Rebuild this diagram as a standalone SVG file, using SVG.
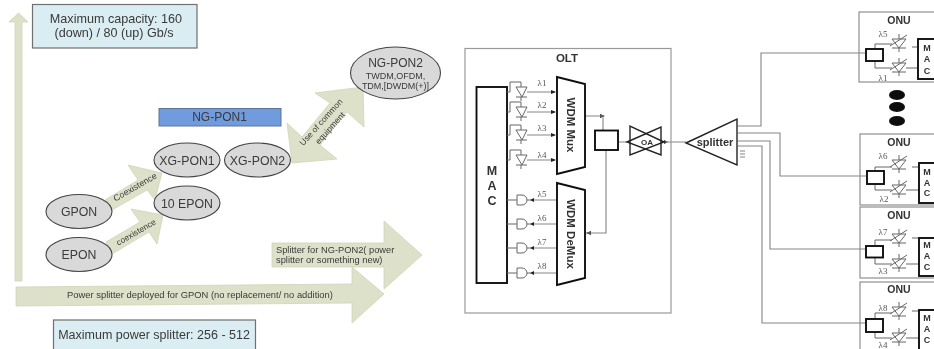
<svg xmlns="http://www.w3.org/2000/svg" width="934" height="349" viewBox="0 0 934 349">
<style>
text{font-family:"Liberation Sans",Arial,sans-serif;fill:#3a3a3a;text-anchor:middle}
.arrow{fill:#dde1c9;stroke:#cfd4b8;stroke-width:.8}
.info{fill:#daedf3;stroke:#6f6f6f;stroke-width:1.200}
.pon{fill:#d9d9d9;stroke:#444;stroke-width:1.100}
.w{fill:none;stroke:#858585;stroke-width:1.100}
.k{fill:#fff;stroke:#111;stroke-width:1.900}
.k2{fill:none;stroke:#222;stroke-width:1.400}
.th{fill:none;stroke:#666;stroke-width:1}
.b{font-weight:bold;fill:#333}
.l{font-family:"Liberation Serif",serif;font-size:9px;fill:#555}
</style>
<defs>
<filter id="s" x="-2%" y="-2%" width="104%" height="104%"><feGaussianBlur stdDeviation="0.4"/></filter>
<g id="ld"><path class="th" d="M-15 0H-12V-10H-1V-5M-1 5V9M-6 5H5M-6 -5H5L0 5Z"/></g>
<g id="pd"><path class="th" d="M-15 0H-5M-5 -5H0A5 5 0 0 1 0 5H-5Z"/><path d="M5 0H8" class="th"/><path d="M8 0L12 -2V2Z" fill="#222"/></g>
<g id="ot"><path class="th" d="M-7 -4H7L0 5Z M-7 5H7M0 5V9M0 -9V-4M-9 3L8 -8"/></g>
</defs>
<rect width="934" height="349" fill="#fff"/>
<g filter="url(#s)">
<g id="connectors-left">
<polygon class="arrow" points="15,281 22,281 22,22 28,22 18.500,13 9,22 15,22"/>
<polygon class="arrow" points="272,243 384,243 384,221 422,255 384,289 384,267 272,267"/>
<polygon class="arrow" points="16,287 352,284 352,267 384,294 352,323 352,303 16,306"/>
<polygon class="arrow" points="105,200 138,180 128,165 162,173 155,200 147,190 112,210"/>
<polygon class="arrow" points="106,242 140,222 131,209 163,215 157,244 149,232 112,254"/>
<polygon class="arrow" points="363,87 364,127 347,112 320,145 337,159 292,163 287,123 302,137 330,103 315,93"/>
<text x="135" y="190" font-size="8.800" transform="rotate(-30 135 187)">Coexistence</text>
<text x="136" y="235" font-size="8.400" transform="rotate(-30 136 232)">coexistence</text>
<text x="321" y="125" font-size="8.500" transform="rotate(-48 321 122)">Use of common</text>
<text x="330" y="131" font-size="8.500" transform="rotate(-48 330 128)">equipment</text>
<text x="276" y="253" font-size="9.300" style="text-anchor:start">Splitter for NG-PON2( power</text>
<text x="276" y="263" font-size="9.300" style="text-anchor:start">splitter or something new)</text>
<text x="200" y="298" font-size="9.400">Power splitter deployed for GPON (no replacement/ no addition)</text>
</g>
<g id="capacity"><rect class="info" x="32.500" y="4.500" width="164.500" height="43.500"/>
<text x="116" y="23" font-size="12.600">Maximum capacity: 160</text><text x="114" y="37" font-size="12.600">(down) / 80 (up) Gb/s</text></g>
<g id="splitter-max"><rect class="info" x="53.500" y="320" width="202" height="30"/>
<text x="154" y="339" font-size="12.500">Maximum power splitter: 256 - 512</text></g>
<g id="ngpon1"><rect x="159" y="108.500" width="122" height="17.500" fill="#6f9bdc" stroke="#5f7596"/><text x="219.500" y="121" font-size="12">NG-PON1</text></g>
<g id="xgpon1"><ellipse class="pon" cx="187" cy="160" rx="33" ry="17"/><text x="187" y="164.500" font-size="12.300">XG-PON1</text></g>
<g id="xgpon2"><ellipse class="pon" cx="257.500" cy="160" rx="33" ry="17"/><text x="257.500" y="164.500" font-size="12.300">XG-PON2</text></g>
<g id="epon10"><ellipse class="pon" cx="187" cy="203" rx="33" ry="17"/><text x="187" y="207.500" font-size="12.300">10 EPON</text></g>
<g id="gpon"><ellipse class="pon" cx="79" cy="211.500" rx="33" ry="17"/><text x="79" y="216" font-size="12.300">GPON</text></g>
<g id="epon"><ellipse class="pon" cx="79" cy="254.500" rx="33" ry="17"/><text x="79" y="259" font-size="12.300">EPON</text></g>
<g id="ngpon2"><ellipse class="pon" cx="395.500" cy="73" rx="45" ry="26"/><text x="395.500" y="67" font-size="12">NG-PON2</text><text x="395.500" y="79" font-size="9">TWDM,OFDM,</text><text x="395.500" y="89" font-size="9">TDM,[DWDM(+)]</text></g>

<g id="connectors-right">
<path class="w" d="M738 126H761V53H866M738 133H780V176H867M738 141H770V249H866M738 146H762V323H866"/>
<path class="w" d="M740 151H745M740 154H745M740 157H745"/>
<path class="w" d="M527 92H555M527 112H555M527 135H555M527 160H555"/>
<path d="M551 90L556 92L551 94ZM551 110L556 112L551 114ZM551 133L556 135L551 137ZM551 158L556 160L551 162ZM600 114L605 116L600 118ZM586 233L591 231V235ZM664 140L668 142L664 144Z" fill="#222"/>
<path class="w" d="M585 116H603V130M586 233H606V150M618 142H627M664 142H686"/>
<path class="w" d="M557 200H530M557 224H530M557 248H530M557 273H530"/>
</g>
<g id="olt"><rect x="465" y="48.500" width="206" height="264.500" fill="none" stroke="#999" stroke-width="1.200"/><text class="b" x="567" y="62" font-size="11.500">OLT</text></g>
<g id="olt-mac"><rect class="k" x="476.500" y="87" width="30.500" height="196"/><text class="b" x="492" y="175" font-size="12.500">M</text><text class="b" x="492" y="190" font-size="12.500">A</text><text class="b" x="492" y="205" font-size="12.500">C</text></g>
<g id="lasers">
<use href="#ld" x="522" y="92"/><use href="#ld" x="522" y="112"/><use href="#ld" x="522" y="135"/><use href="#ld" x="522" y="160"/>
<text class="l" x="542" y="86">λ1</text><text class="l" x="542" y="108">λ2</text><text class="l" x="542" y="131">λ3</text><text class="l" x="542" y="158">λ4</text>
</g>
<g id="receivers">
<use href="#pd" x="522" y="200"/><use href="#pd" x="522" y="224"/><use href="#pd" x="522" y="248"/><use href="#pd" x="522" y="273"/>
<text class="l" x="542" y="197">λ5</text><text class="l" x="542" y="221">λ6</text><text class="l" x="542" y="245">λ7</text><text class="l" x="542" y="269">λ8</text>
</g>
<g id="wdm-mux"><polygon class="k" points="557,77 585,84 585,167 557,174"/><text class="b" x="571" y="125" font-size="11.500" transform="rotate(90 571 125)" dy="4">WDM Mux</text></g>
<g id="wdm-demux"><polygon class="k" points="557,183 585,190 585,278 557,285"/><text class="b" x="571" y="234" font-size="11.500" transform="rotate(90 571 234)" dy="4">WDM DeMux</text></g>
<g id="olt-port"><rect class="k" x="595" y="130.500" width="23" height="19.500"/></g>
<g id="oa"><polygon class="k2" points="627,142 661,127 661,155"/><polygon class="k2" points="630,126 630,155 664,142"/><text class="b" x="647" y="145" font-size="8">OA</text></g>
<g id="splitter"><polygon class="k2" points="686,143 737,119 737,165"/><text class="b" x="715" y="146" font-size="11">splitter</text></g>

<g id="onu1"><rect class="w" x="859" y="12" width="80" height="70"/><text class="b" x="899" y="24" font-size="10.500">ONU</text><text class="l" x="883" y="37">λ5</text><text class="l" x="883" y="81">λ1</text>
<path class="th" d="M875 49V44H892M875 61V68H892M912 47H918M906 68H918"/><use href="#ot" x="899" y="43"/><use href="#ot" x="899" y="67"/><rect class="k" x="866" y="49" width="17" height="12"/><rect class="k" x="918" y="39" width="20" height="40"/><text class="b" x="927" y="51" font-size="9">M</text><text class="b" x="927" y="62" font-size="9">A</text><text class="b" x="927" y="74" font-size="9">C</text></g>
<g id="dots"><ellipse cx="897" cy="95" rx="8" ry="5" fill="#111"/><ellipse cx="897" cy="107" rx="8" ry="5" fill="#111"/><ellipse cx="897" cy="121" rx="8" ry="5" fill="#111"/></g>
<g id="onu2"><rect class="w" x="860" y="134" width="80" height="71"/><text class="b" x="899" y="146" font-size="10.500">ONU</text><text class="l" x="883" y="159">λ6</text><text class="l" x="884" y="202">λ2</text>
<path class="th" d="M875 172V167H892M875 184V190H892M912 167H918M906 190H918"/><use href="#ot" x="899" y="164"/><use href="#ot" x="899" y="189"/><rect class="k" x="867" y="171" width="17" height="13"/><rect class="k" x="919" y="163" width="20" height="40"/><text class="b" x="927" y="175" font-size="9">M</text><text class="b" x="927" y="186" font-size="9">A</text><text class="b" x="927" y="196" font-size="9">C</text></g>
<g id="onu3"><rect class="w" x="860" y="207" width="80" height="71"/><text class="b" x="899" y="219" font-size="10.500">ONU</text><text class="l" x="883" y="235">λ7</text><text class="l" x="883" y="274">λ3</text>
<path class="th" d="M875 246V240H892M875 257V264H892M912 238H918M906 264H918"/><use href="#ot" x="899" y="238"/><use href="#ot" x="899" y="263"/><rect class="k" x="866" y="246" width="17" height="11.500"/><rect class="k" x="919" y="238" width="20" height="38"/><text class="b" x="927" y="248" font-size="9">M</text><text class="b" x="927" y="259" font-size="9">A</text><text class="b" x="927" y="270" font-size="9">C</text></g>
<g id="onu4"><rect class="w" x="860" y="282" width="80" height="75"/><text class="b" x="899" y="293" font-size="10.500">ONU</text><text class="l" x="883" y="311">λ8</text><text class="l" x="883" y="348">λ4</text>
<path class="th" d="M875 319V313H892M875 332V338H892M912 311H918M906 338H918"/><use href="#ot" x="899" y="311"/><use href="#ot" x="899" y="337"/><rect class="k" x="866" y="319" width="17" height="13"/><rect class="k" x="919" y="310" width="20" height="45"/><text class="b" x="927" y="321" font-size="9">M</text><text class="b" x="927" y="332" font-size="9">A</text><text class="b" x="927" y="343" font-size="9">C</text></g>
</g>
</svg>
